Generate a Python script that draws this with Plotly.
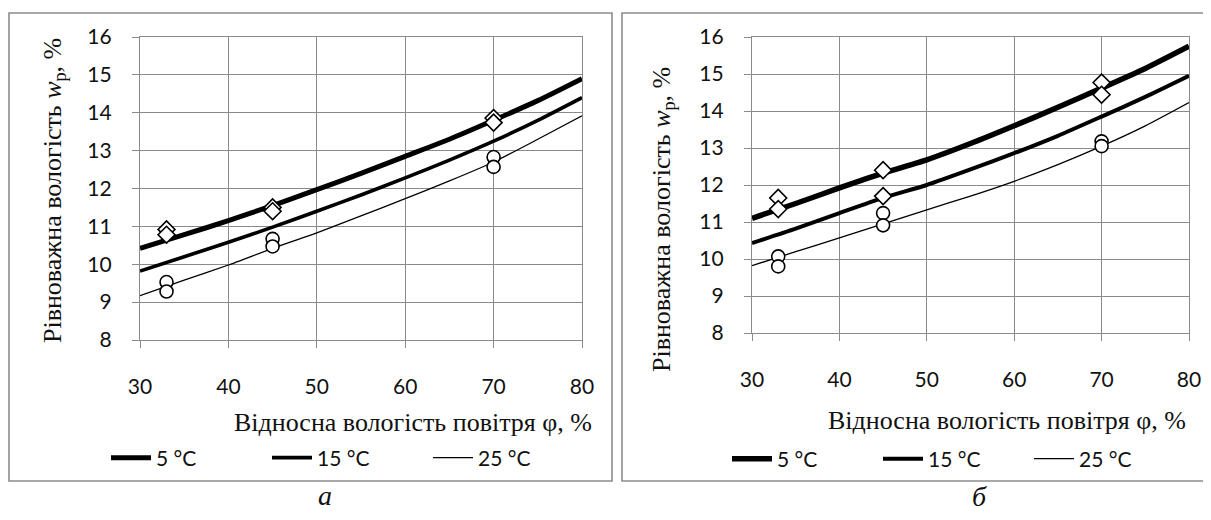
import plotly.graph_objects as go

# ---------------- data ----------------
phi = [30, 35, 40, 45, 50, 55, 60, 65, 70, 75, 80]
temps = ["5 °C", "15 °C", "25 °C"]

# panel a
a_5 = [10.42, 10.78, 11.15, 11.55, 11.97, 12.40, 12.85, 13.30, 13.80, 14.32, 14.90]
a_15 = [9.82, 10.20, 10.58, 10.98, 11.40, 11.83, 12.28, 12.75, 13.25, 13.80, 14.40]
a_25 = [9.17, 9.58, 9.98, 10.42, 10.83, 11.28, 11.73, 12.20, 12.70, 13.30, 13.92]
a_diam_x = [33, 33, 45, 45, 70, 70]
a_diam_y = [10.92, 10.78, 11.50, 11.40, 13.86, 13.74]
a_circ_x = [33, 33, 45, 45, 70, 70]
a_circ_y = [9.53, 9.28, 10.67, 10.47, 12.83, 12.57]

# panel б
b_5 = [11.10, 11.50, 11.92, 12.32, 12.68, 13.12, 13.60, 14.10, 14.62, 15.15, 15.75]
b_15 = [10.43, 10.82, 11.24, 11.65, 12.00, 12.42, 12.86, 13.33, 13.85, 14.38, 14.95]
b_25 = [9.82, 10.20, 10.57, 10.95, 11.33, 11.70, 12.10, 12.55, 13.05, 13.60, 14.23]
b_diam_x = [33, 33, 45, 45, 70, 70]
b_diam_y = [11.65, 11.35, 12.40, 11.70, 14.77, 14.44]
b_circ_x = [33, 33, 45, 45, 70, 70]
b_circ_y = [10.07, 9.80, 11.24, 10.91, 13.18, 13.05]

x_ticks = [30, 40, 50, 60, 70, 80]
y_ticks = [8, 9, 10, 11, 12, 13, 14, 15, 16]

x_title = "Відносна вологість повітря φ, %"
y_title = "Рівноважна вологість <i>w</i><sub>р</sub>, %"
panel_labels = ["а", "б"]

# ---------------- figure ----------------
# page is 1211x520 with an 8px body margin -> figure is 1195x504, offset by 8px
OFF = 8
W, H = 1211 - 2 * OFF, 520 - 2 * OFF
fig = go.Figure()

widths_a = [5, 3.6, 1.3]
widths_b = [5.5, 4, 1.3]

for name, ys, w in zip(temps, [a_5, a_15, a_25], widths_a):
    fig.add_trace(go.Scatter(x=phi, y=ys, mode="lines", name=name,
                             line=dict(color="black", width=w, shape="spline", smoothing=0.6),
                             xaxis="x", yaxis="y", legend="legend"))
for name, ys, w in zip(temps, [b_5, b_15, b_25], widths_b):
    fig.add_trace(go.Scatter(x=phi, y=ys, mode="lines", name=name,
                             line=dict(color="black", width=w, shape="spline", smoothing=0.6),
                             xaxis="x2", yaxis="y2", legend="legend2"))

mk_d = dict(symbol="diamond", size=13, color="white", line=dict(color="black", width=1.6))
mk_c = dict(symbol="circle", size=13, color="white", line=dict(color="black", width=1.6))
fig.add_trace(go.Scatter(x=a_diam_x, y=a_diam_y, mode="markers", marker=mk_d, showlegend=False, xaxis="x", yaxis="y"))
fig.add_trace(go.Scatter(x=a_circ_x, y=a_circ_y, mode="markers", marker=mk_c, showlegend=False, xaxis="x", yaxis="y"))
fig.add_trace(go.Scatter(x=b_diam_x, y=b_diam_y, mode="markers", marker=mk_d, showlegend=False, xaxis="x2", yaxis="y2"))
fig.add_trace(go.Scatter(x=b_circ_x, y=b_circ_y, mode="markers", marker=mk_c, showlegend=False, xaxis="x2", yaxis="y2"))

grid = "#8a8a8a"
tickfont = dict(family="Lato", size=21, color="#111111")

def xax(dom, anchor):
    return dict(domain=dom, anchor=anchor, range=[30, 80], tickvals=x_ticks,
                showgrid=True, gridcolor=grid, gridwidth=1.3, zeroline=False,
                showline=True, linecolor=grid, linewidth=1.3, mirror=True,
                ticks="outside", ticklen=7, tickcolor=grid, tickwidth=1.3,
                tickfont=tickfont, ticklabelstandoff=21, fixedrange=True,
                automargin=False, ticklabeloverflow="allow")

def yax(dom, anchor):
    return dict(domain=dom, anchor=anchor, range=[8, 16], tickvals=y_ticks,
                showgrid=True, gridcolor=grid, gridwidth=1.3, zeroline=False,
                showline=True, linecolor=grid, linewidth=1.3, mirror=True,
                ticks="outside", ticklen=7, tickcolor=grid, tickwidth=1.3,
                tickfont=tickfont, ticklabelstandoff=16, fixedrange=True,
                automargin=False)

def px(x):
    return (x - OFF) / W

def py(y):
    return 1 - (y - OFF) / H

legend_common = dict(orientation="h", font=dict(family="Lato", size=21, color="#111111"),
                     bgcolor="rgba(0,0,0,0)", yanchor="middle", xanchor="left",
                     itemwidth=40)

fig.update_layout(
    width=W, height=H, autosize=False,
    margin=dict(l=0, r=0, t=0, b=0, pad=0, autoexpand=False),
    paper_bgcolor="white", plot_bgcolor="white",
    xaxis=xax([px(140), px(582)], "y"),
    yaxis=yax([py(340), py(37)], "x"),
    xaxis2=xax([px(752), px(1189)], "y2"),
    yaxis2=yax([py(333), py(37)], "x2"),
    legend=dict(legend_common, x=px(106), y=py(458), entrywidth=106),
    legend2=dict(legend_common, x=px(727), y=py(459), entrywidth=96),
    showlegend=True,
)

# panel frames
for x0, x1 in [(9, 612), (622, 1212)]:
    fig.add_shape(type="rect", xref="paper", yref="paper",
                  x0=px(x0), x1=px(x1), y0=py(481), y1=py(13),
                  line=dict(color="#8c8c8c", width=1.6), layer="below")

serif = dict(family="Liberation Serif, Times New Roman, DejaVu Serif, serif", size=26, color="#111111")
# axis titles
for cx, cy in [(413, 422), (1007, 420)]:
    fig.add_annotation(text=x_title, xref="paper", yref="paper", x=px(cx), y=py(cy),
                       showarrow=False, font=serif, xanchor="center", yanchor="middle")
for cx, cy in [(54, 191), (663, 220)]:
    fig.add_annotation(text=y_title, xref="paper", yref="paper", x=px(cx), y=py(cy),
                       showarrow=False, font=serif, textangle=-90,
                       xanchor="center", yanchor="middle")
# panel letters
for lab, (cx, cy) in zip(panel_labels, [(325, 495), (979, 496)]):
    fig.add_annotation(text="<i>" + lab + "</i>", xref="paper", yref="paper", x=px(cx), y=py(cy),
                       showarrow=False, font=dict(family="Liberation Serif, serif", size=28, color="#111111"),
                       xanchor="center", yanchor="middle")

fig.write_html("out.html")
